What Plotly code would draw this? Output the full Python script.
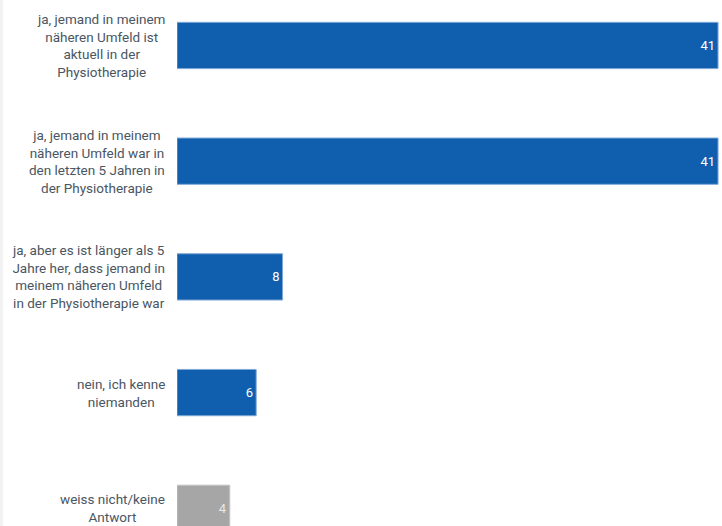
import plotly.graph_objects as go

# Survey answers and their shares
categories = [
    "ja, jemand in meinem<br>näheren Umfeld ist<br>aktuell in der<br>Physiotherapie",
    "ja, jemand in meinem<br>näheren Umfeld war in<br>den letzten 5 Jahren in<br>der Physiotherapie",
    "ja, aber es ist länger als 5<br>Jahre her, dass jemand in<br>meinem näheren Umfeld<br>in der Physiotherapie war",
    "nein, ich kenne<br>niemanden",
    "weiss nicht/keine<br>Antwort",
]
values = [41, 41, 8, 6, 4]
bar_colors = ["#0f5fae", "#0f5fae", "#0f5fae", "#0f5fae", "#a6a6a6"]
label_colors = ["#ffffff", "#ffffff", "#ffffff", "#ffffff", "#e8e8e8"]
line_colors = ["#7fa8d6", "#7fa8d6", "#7fa8d6", "#7fa8d6", "#c4c4c4"]

FONT = "Roboto"
TEXT_GREY = "#4a5662"

fig = go.Figure(
    go.Bar(
        x=values,
        y=list(range(len(categories))),
        orientation="h",
        marker=dict(color=bar_colors, line=dict(color=line_colors, width=1)),
        text=[str(v) for v in values],
        textposition="inside",
        insidetextanchor="end",
        textfont=dict(family=FONT, size=13, color=label_colors),
        width=0.4,
        hoverinfo="skip",
    )
)

# Category labels, centred text blocks to the left of the bars
for i, cat in enumerate(categories):
    fig.add_annotation(
        x=0, y=i, xref="x", yref="y",
        text=cat, showarrow=False,
        xanchor="right", yanchor="middle", align="center",
        xshift=-10,
        font=dict(family=FONT, size=13.5, color=TEXT_GREY),
    )

# Thin light strip along the left edge of the page
fig.add_shape(
    type="rect", xref="paper", yref="paper",
    x0=-177 / 545, x1=-174 / 545, y0=0, y1=1,
    fillcolor="#f2f2f2", line=dict(width=0), layer="below",
)

fig.update_layout(
    width=722, height=526,
    margin=dict(l=177, r=0, t=0, b=0),
    paper_bgcolor="white", plot_bgcolor="white",
    showlegend=False,
    xaxis=dict(range=[0, 41.3], visible=False, fixedrange=True),
    yaxis=dict(range=[4.153, -0.393], visible=False, fixedrange=True),
)

fig.write_html("out.html")
